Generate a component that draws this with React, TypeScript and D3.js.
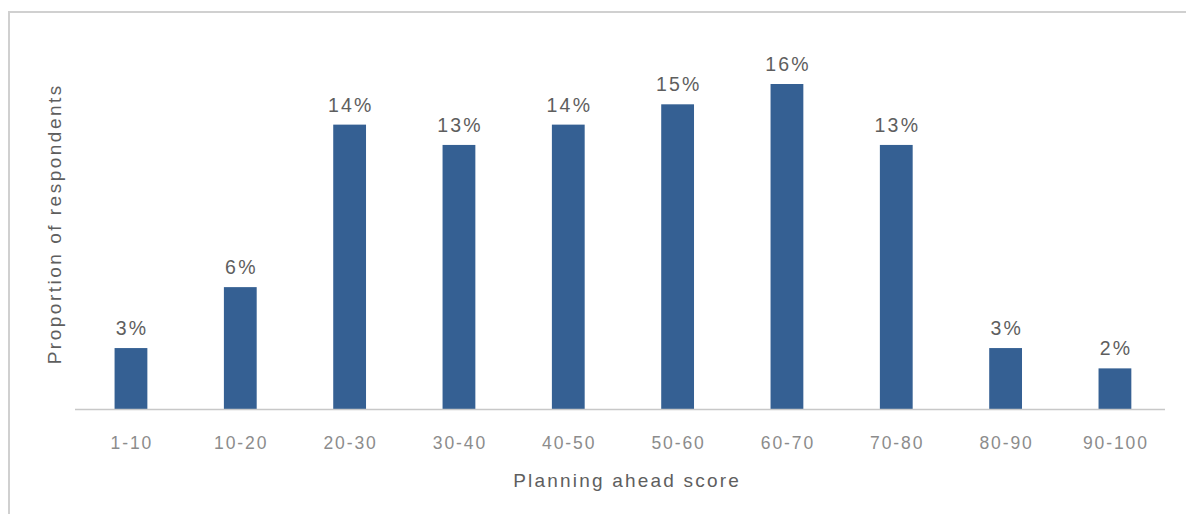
import React from "react";
import * as d3 from "d3";

const categories = ["1-10", "10-20", "20-30", "30-40", "40-50", "50-60", "60-70", "70-80", "80-90", "90-100"];
const values = [3, 6, 14, 13, 14, 15, 16, 13, 3, 2];
const xTitle = "Planning ahead score";
const yTitle = "Proportion of respondents";

export default function App() {
  const W = 1186, H = 514;
  const x = d3.scaleBand<string>().domain(categories).range([76.3, 1169.6]).paddingInner(0.7).paddingOuter(0.35);
  const y = d3.scaleLinear().domain([0, 16]).range([409, 84]);
  const font = "'Liberation Sans', Arial, sans-serif";
  const lblLS = 2.2, tickLS = 1.9, titleLS = 2.2, yTitleLS = 2.5;
  return (
    <svg width={W} height={H} style={{ position: "absolute", left: 0, top: 0 }} fontFamily={font}>
      <rect x={0} y={0} width={W} height={H} fill="#fff" />
      <rect x={9} y={12} width={W + 20} height={H + 20} fill="none" stroke="#d0d0d0" strokeWidth={2} />
      {categories.map((c, i) => (
        <g key={c}>
          <rect x={x(c)} y={y(values[i])} width={x.bandwidth()} height={y(0) - y(values[i])} fill="#356093" />
          <text x={x(c)! + x.bandwidth() / 2 + lblLS / 2} y={y(values[i]) - 13} textAnchor="middle" fontSize={19.5} fill="#5e5e5e" letterSpacing={lblLS}>
            {values[i]}%
          </text>
          <text x={x(c)! + x.bandwidth() / 2 + tickLS / 2} y={448.5} textAnchor="middle" fontSize={17.5} fill="#8c8c8c" letterSpacing={tickLS}>
            {c}
          </text>
        </g>
      ))}
      <line x1={75} x2={1165} y1={409.5} y2={409.5} stroke="#c8c8c8" strokeWidth={1.5} />
      <text x={626 + titleLS / 2} y={487} textAnchor="middle" fontSize={19} fill="#5e5e5e" letterSpacing={titleLS}>{xTitle}</text>
      <text transform={`translate(61,${225 - yTitleLS / 2}) rotate(-90)`} textAnchor="middle" fontSize={19} fill="#5e5e5e" letterSpacing={yTitleLS}>{yTitle}</text>
    </svg>
  );
}
